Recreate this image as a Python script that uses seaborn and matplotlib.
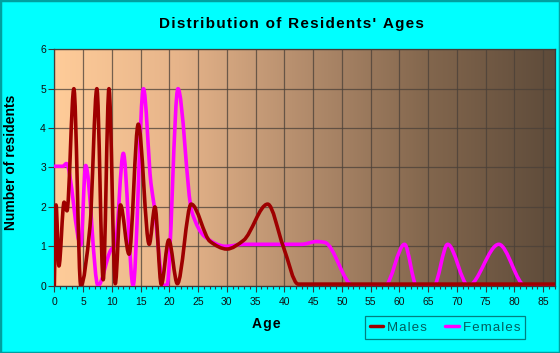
import matplotlib
matplotlib.use('Agg')
import matplotlib.pyplot as plt
import numpy as np
import seaborn as sns
from matplotlib.path import Path
from matplotlib.patches import PathPatch, Rectangle
from matplotlib.lines import Line2D
from matplotlib.ticker import MultipleLocator

# knots (age, number of residents)
male_age = [0, 0.3, 0.8, 1.7, 2.2, 3.4, 4.6, 6.2, 7.4, 8.5, 9.5, 10.6, 11.5, 13.0, 14.6,
            16.5, 17.5, 18.6, 19.9, 21.4, 23.8, 27.1, 30.0, 32.9, 37.1, 39.8, 42.4, 87]
male_cnt = [0, 2.05, 0.5, 2.12, 1.9, 5.0, 0.0, 1.5, 5.0, 0.15, 5.0, 0.05, 2.05, 0.8, 4.1,
            1.05, 2.0, 0.03, 1.16, 0.05, 2.07, 1.12, 0.93, 1.15, 2.07, 1.0, 0.04, 0.04]

female_age = [0, 1.5, 2.1, 4.6, 5.45, 7.6, 9.8, 10.6, 12.0, 13.7, 15.5, 16.8, 17.4, 19.0,
              19.6, 21.5, 23.9, 26.2, 29.8, 33, 43, 45.6, 47, 52, 57.5, 60.9, 63, 66,
              68.4, 72, 77.3, 81.9, 87]
female_cnt = [3.03, 3.03, 3.1, 1.03, 3.05, 0.0, 0.9, 1.05, 3.36, 0.0, 5.0, 2.6, 2.0, 0.0,
              0.02, 5.0, 1.88, 1.24, 1.0, 1.05, 1.05, 1.12, 1.1, 0, 0, 1.05, 0, 0,
              1.05, 0, 1.05, 0, 0]

x_ticks = list(range(0, 90, 5))
y_ticks = list(range(0, 7))

sns.set_theme(style='ticks')
plt.rcParams['font.family'] = ['Liberation Sans', 'DejaVu Sans']
colors = sns.color_palette(['#9e0000', '#ff00ff'])


def spaced(s):
    # hair spaces between letters, the reference text is letter-spaced
    return '\u200a'.join(s)


def smooth(x, y):
    # monotone cubic through the knots, drawn as bezier segments
    x = np.asarray(x, float)
    y = np.asarray(y, float)
    h = np.diff(x)
    d = np.diff(y) / h
    m = np.zeros_like(x)
    m[0], m[-1] = d[0], d[-1]
    for k in range(1, len(x) - 1):
        if d[k - 1] * d[k] > 0:
            w1 = 2 * h[k] + h[k - 1]
            w2 = h[k] + 2 * h[k - 1]
            m[k] = (w1 + w2) / (w1 / d[k - 1] + w2 / d[k])
    verts = [(x[0], y[0])]
    codes = [Path.MOVETO]
    for k in range(len(h)):
        verts += [(x[k] + h[k] / 3, y[k] + m[k] * h[k] / 3),
                  (x[k + 1] - h[k] / 3, y[k + 1] - m[k + 1] * h[k] / 3),
                  (x[k + 1], y[k + 1])]
        codes += [Path.CURVE4] * 3
    return Path(verts, codes)


fig = plt.figure(figsize=(5.6, 3.53), dpi=100, facecolor='#00ffff')
ax = fig.add_axes([0.097, 0.1907, 0.8934, 0.6697])

grad = np.linspace(0, 1, 256).reshape(1, -1)
cmap = matplotlib.colors.LinearSegmentedColormap.from_list(
    'bg', ['#ffcc99', '#e6b48a', '#b38c6c', '#82664d', '#5e4b3a'])
ax.imshow(grad, extent=[0, 87, 0, 6], aspect='auto', cmap=cmap, zorder=0)

ax.set_xlim(0, 87)
ax.set_ylim(0, 6)
ax.xaxis.set_major_locator(MultipleLocator(5))
ax.xaxis.set_minor_locator(MultipleLocator(1))
ax.set_xticks(x_ticks)
ax.set_yticks(y_ticks)
ax.grid(True, which='major', color='#4a4038', lw=0.9, alpha=0.75, zorder=1)
ax.set_axisbelow(False)

for (xs, ys), c in zip([(female_age, female_cnt), (male_age, male_cnt)], colors[::-1]):
    ax.add_patch(PathPatch(smooth(xs, ys), fill=False, edgecolor=c, lw=2.6,
                           capstyle='round', joinstyle='round', zorder=3))

for s in ax.spines.values():
    s.set_color('#3a3a3a')
    s.set_linewidth(0.9)
ax.tick_params(axis='both', which='major', length=4, width=0.8, color='#3a3a3a',
               labelsize=7.5, labelcolor='#111111', pad=2)
ax.tick_params(axis='x', which='minor', length=2.5, width=0.8, color='#3a3a3a')
ax.tick_params(axis='x', which='major', pad=4)

fig.text(291 / 560, 1 - 24 / 353, spaced("Distribution of Residents' Ages"), ha='center',
         va='center', fontsize=11, fontweight='bold', color='#000000')
fig.text(266 / 560, 1 - 324 / 353, spaced('Age'), ha='center', va='center',
         fontsize=10, fontweight='bold', color='#000000')
fig.text(11 / 560, 1 - 162 / 353, 'Number of residents', ha='center', va='center',
         rotation=90, fontsize=10, fontweight='bold', color='#000000')

handles = [Line2D([], [], color=colors[0], lw=2.5), Line2D([], [], color=colors[1], lw=2.5)]
leg = fig.legend(handles, [spaced('Males'), spaced('Females')], loc='center', ncol=2,
                 bbox_to_anchor=(445 / 560, 1 - 327.6 / 353), frameon=True, fancybox=False,
                 facecolor='#00ffff', edgecolor='#008080', framealpha=1, fontsize=9.5,
                 handlelength=1.0, handletextpad=0.3, columnspacing=1.4, borderpad=0.4)
leg.get_frame().set_linewidth(0.9)
for t in leg.get_texts():
    t.set_color('#005f5f')

fig.patches.append(Rectangle((0, 0), 1, 1, transform=fig.transFigure, fill=False,
                             edgecolor='#00a0a0', lw=2.5))

fig.savefig('out.png', dpi=100, facecolor=fig.get_facecolor())
